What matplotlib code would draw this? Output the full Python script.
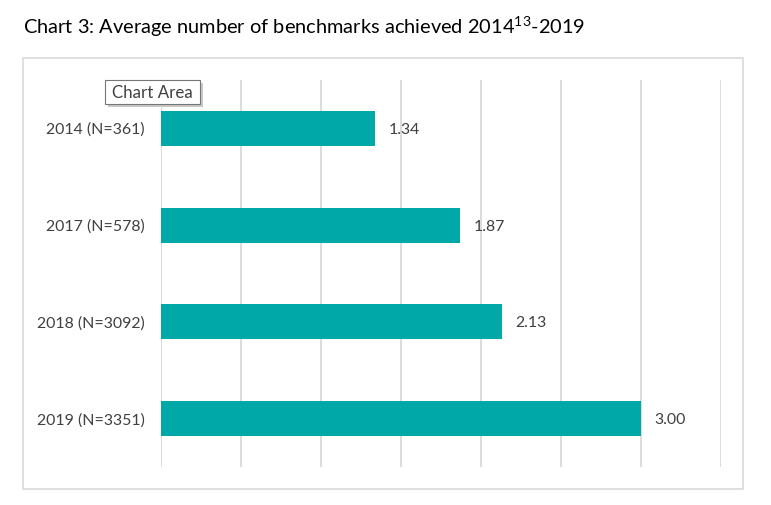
import matplotlib
matplotlib.use("Agg")
import matplotlib.pyplot as plt
from matplotlib.patches import Rectangle

plt.rcParams["mathtext.fontset"] = "custom"
plt.rcParams["mathtext.rm"] = "Lato"
plt.rcParams["mathtext.it"] = "Lato"
plt.rcParams["mathtext.default"] = "rm"

categories = ["2014 (N=361)", "2017 (N=578)", "2018 (N=3092)", "2019 (N=3351)"]
values = [1.34, 1.87, 2.13, 3.00]
xticks = [0, 0.5, 1.0, 1.5, 2.0, 2.5, 3.0, 3.5]

BAR = "#00A8A8"
GRID = "#D9D9D9"
TXT = "#404040"
FONT = ["Lato", "DejaVu Sans"]

fig = plt.figure(figsize=(7.71, 5.05), dpi=100)
fig.patch.set_facecolor("white")

# chart border
fig.patches.append(Rectangle((23/771, 16/505), 720/771, 431/505, transform=fig.transFigure,
                             fill=False, edgecolor=GRID, linewidth=1.2, zorder=0))

ax = fig.add_axes([161/771, 38/505, 560/771, 387/505])
ypos = list(range(len(categories)))
ax.barh(ypos, values, height=0.36, color=BAR, zorder=3)
ax.set_ylim(len(categories) - 0.5, -0.5)
ax.set_xlim(0, 3.5)
ax.set_xticks(xticks)
ax.set_xticklabels([])
for x in xticks:
    ax.axvline(x, color=GRID, linewidth=1.3, zorder=1)
ax.set_yticks(ypos)
ax.set_yticklabels(categories, family=FONT, fontsize=11.4, color=TXT)
ax.tick_params(axis="both", length=0, pad=11.5)
for s in ax.spines.values():
    s.set_visible(False)
for y, v in zip(ypos, values):
    ax.annotate(f"{v:.2f}", (v, y), xytext=(9.5, -1), textcoords="offset points",
                va="center", ha="left", family=FONT, fontsize=11.4, color=TXT)

# title
fig.text(23/771, 1 - 34/505, "Chart 3: Average number of benchmarks achieved 2014$^{13}$-2019",
         family=FONT, fontsize=14.4, color="black", ha="left", va="baseline")

# Excel "Chart Area" tooltip
fig.patches.append(Rectangle((108/771, 1 - 107/505), 95/771, 24/505, transform=fig.transFigure,
                             facecolor="#C8C8C8", edgecolor="none", zorder=5))
fig.patches.append(Rectangle((105/771, 1 - 104/505), 95/771, 24/505, transform=fig.transFigure,
                             facecolor="white", edgecolor="#767676", linewidth=0.8, zorder=6))
fig.text(152.5/771, 1 - 93/505, "Chart Area", family=FONT, fontsize=12.2, color=TXT,
         ha="center", va="center", zorder=7)

fig.savefig("out.png", dpi=100, facecolor="white")
